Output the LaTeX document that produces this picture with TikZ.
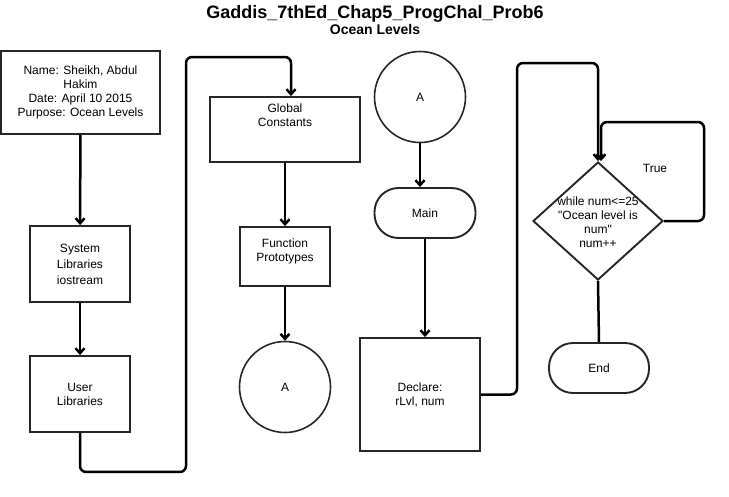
\documentclass[tikz,border=0pt]{standalone}
\usepackage{fontspec}
\setmainfont{Liberation Sans}
\usetikzlibrary{shapes.geometric,arrows.meta}

\begin{document}
\begin{tikzpicture}[x=1pt,y=-1pt,
    box/.style={rectangle,draw=black!85,line width=1.9pt,align=center,
      font=\fontsize{12}{14}\selectfont,inner sep=0pt},
    term/.style={box,rounded corners=24pt},
    conn/.style={circle,draw=black!85,line width=1.6pt,
      font=\fontsize{12}{14}\selectfont,minimum size=91pt,inner sep=0pt},
    flow/.style={line width=2.5pt,black,-{Straight Barb[length=5pt,width=9pt]}},
    plain/.style={line width=2.5pt,black}]

  \useasboundingbox (0,0) rectangle (729,496);

  \node[font=\fontsize{18}{20}\selectfont\bfseries,anchor=base] (t1) at (375,18) {Gaddis\_7thEd\_Chap5\_ProgChal\_Prob6};
  \node[font=\fontsize{14}{16}\selectfont\bfseries,anchor=base] (t2) at (375,34) {Ocean Levels};

  \begin{scope}[every node/.style={box}]
    \node[minimum width=159,minimum height=83] (1) at (80.5,92.5) {Name: Sheikh, Abdul\\Hakim\\Date: April 10 2015\\Purpose: Ocean Levels};
    \node[minimum width=100,minimum height=76] (2) at (80,264) {System\\[2pt]Libraries\\[2pt]iostream};
    \node[minimum width=100,minimum height=76] (3) at (80,394) {User\\Libraries};
    \node[minimum width=150,minimum height=65] (4) at (285,129.5) {Global\\Constants\\~\\~};
    \node[minimum width=90,minimum height=59] (5) at (285,256.5) {Function\\Prototypes\\[-2pt]~};
    \node[minimum width=120,minimum height=113] (8) at (420,394.5) {Declare:\\rLvl, num};
  \end{scope}

  \node[conn] (6) at (285,387) {A};
  \node[conn] (7) at (420,97) {A};
  \node[term,minimum width=101,minimum height=50] (m) at (425,213) {Main};
  \node[term,minimum width=100,minimum height=50] (e) at (599,368) {End};

  \node[diamond,draw=black!85,line width=1.9pt,minimum width=130,minimum height=118,inner sep=0pt] (9) at (598,221) {};
  \node[font=\fontsize{12}{14}\selectfont,align=center] (9t) at (598,222) {while num<=25\\\textquotedbl Ocean level is\\num\textquotedbl\\num++};
  \node[font=\fontsize{12}{14}\selectfont] (tr) at (655,168) {True};

  \begin{scope}[rounded corners=6pt]
    \draw[flow] (1) -- (2);
    \draw[flow] (2) -- (3);
    \draw[flow] (3.south) -- ++(0,39) -| (186,57) -| ([xshift=6pt]4.north);
    \draw[flow] (4) -- (5);
    \draw[flow] (5) -- (6);
    \draw[flow] (7.south) -- (7.south |- m.north);
    \draw[flow] (m.south) -- (m.south |- 8.north);
    \draw[flow] (8.east) -| (517,63) -| (9.north);
    \draw[flow] (9.east) -| (704,122) -| ([xshift=3pt]9.north);
    \draw[plain] (9.south) -- (e.north);
  \end{scope}

\end{tikzpicture}
\end{document}
